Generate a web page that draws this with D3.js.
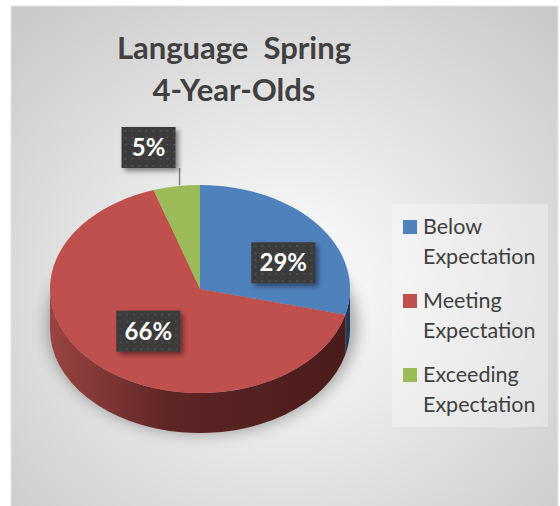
<!DOCTYPE html>
<html>
<head>
<meta charset="utf-8">
<script src="https://cdn.jsdelivr.net/npm/d3@7"></script>
<style>
  body { margin: 0; background: #fff; }
  svg { display: block; }
</style>
</head>
<body>
<div id="chart"></div>
<script>
// chart data
const categories = ["Below Expectation", "Meeting Expectation", "Exceeding Expectation"];
const legendLines = [["Below", "Expectation"], ["Meeting", "Expectation"], ["Exceeding", "Expectation"]];
const values = [29, 66, 5];
const colors = ["#4f81bd", "#c0504d", "#9bbb59"];
const sideColors = [["#3d6796", "#223a58"], ["#9b4441", "#4a1b1b"], ["#7a9446", "#4b5c2a"]];
const titleLines = ["Language  Spring", "4-Year-Olds"];

const width = 560, height = 506;
const cx = 200, cy = 289, rx = 150, ry = 104, depth = 40;

const svg = d3.select("#chart").append("svg")
    .attr("width", width)
    .attr("height", height);

const defs = svg.append("defs");

// background gradient
const bg = defs.append("radialGradient")
    .attr("id", "bg")
    .attr("cx", "50%").attr("cy", "55%").attr("r", "72%");
bg.append("stop").attr("offset", "0%").attr("stop-color", "#ffffff");
bg.append("stop").attr("offset", "100%").attr("stop-color", "#c9c9c9");

svg.append("rect")
    .attr("x", 11).attr("y", 6)
    .attr("width", 547).attr("height", 510)
    .attr("fill", "url(#bg)")
    .attr("stroke", "#e4e4e4")
    .attr("stroke-width", 1);

// blur for shadows
const blur = defs.append("filter").attr("id", "blur")
    .attr("x", "-30%").attr("y", "-30%").attr("width", "160%").attr("height", "160%");
blur.append("feGaussianBlur").attr("stdDeviation", 7);

const boxShadow = defs.append("filter").attr("id", "boxShadow")
    .attr("x", "-30%").attr("y", "-30%").attr("width", "170%").attr("height", "170%");
boxShadow.append("feDropShadow")
    .attr("dx", 3).attr("dy", 3).attr("stdDeviation", 2.5)
    .attr("flood-color", "#000").attr("flood-opacity", 0.45);

// dotted pattern for the data label boxes
const pat = defs.append("pattern")
    .attr("id", "dots")
    .attr("width", 7).attr("height", 7)
    .attr("patternUnits", "userSpaceOnUse");
pat.append("rect").attr("width", 7).attr("height", 7).attr("fill", "#3b3b3b");
pat.append("rect").attr("x", 3).attr("y", 3).attr("width", 1.6).attr("height", 1.6).attr("fill", "#575757");

// title
svg.append("g")
    .selectAll("text")
    .data(titleLines)
    .join("text")
    .attr("x", 234)
    .attr("y", (d, i) => 59 + i * 42)
    .attr("text-anchor", "middle")
    .attr("font-family", "Lato")
    .attr("font-weight", "bold")
    .attr("font-size", 31)
    .attr("fill", "#404040")
    .style("white-space", "pre")
    .text(d => d);

// pie layout
const pie = d3.pie().sort(null).value(d => d);
const arcsData = pie(values);

// shadow under the pie
svg.append("ellipse")
    .attr("cx", cx + 2).attr("cy", cy + depth - 4)
    .attr("rx", rx + 6).attr("ry", ry + 6)
    .attr("fill", "#555")
    .attr("opacity", 0.45)
    .attr("filter", "url(#blur)");

// side walls (only the front half is visible)
const pt = (a, dy) => [cx + rx * Math.sin(a), cy - ry * Math.cos(a) + dy];

arcsData.forEach((d, i) => {
    const g = defs.append("linearGradient")
        .attr("id", `side-${i}`)
        .attr("gradientUnits", "userSpaceOnUse")
        .attr("x1", cx - rx).attr("x2", cx + rx);
    g.append("stop").attr("offset", "0%").attr("stop-color", sideColors[i][0]);
    g.append("stop").attr("offset", "40%").attr("stop-color", d3.interpolate(sideColors[i][0], sideColors[i][1])(0.75));
    g.append("stop").attr("offset", "100%").attr("stop-color", sideColors[i][1]);
});

const sides = arcsData.map((d, i) => {
    const a0 = Math.max(d.startAngle, Math.PI / 2);
    const a1 = Math.min(d.endAngle, Math.PI * 3 / 2);
    return { i, a0, a1 };
}).filter(s => s.a1 > s.a0);

svg.append("g")
    .selectAll("path")
    .data(sides)
    .join("path")
    .attr("d", s => {
        const p0 = pt(s.a0, 0), p1 = pt(s.a1, 0);
        const q1 = pt(s.a1, depth), q0 = pt(s.a0, depth);
        return `M${p0}A${rx},${ry} 0 0 1 ${p1}L${q1}A${rx},${ry} 0 0 0 ${q0}Z`;
    })
    .attr("fill", s => `url(#side-${s.i})`);

// top surface
const arc = d3.arc().innerRadius(0).outerRadius(rx);
svg.append("g")
    .attr("transform", `translate(${cx},${cy}) scale(1,${ry / rx})`)
    .selectAll("path")
    .data(arcsData)
    .join("path")
    .attr("d", arc)
    .attr("fill", (d, i) => colors[i]);

// data labels
const labelRx = 0.61, labelRy = 0.49;
const labels = arcsData.map((d, i) => {
    const mid = (d.startAngle + d.endAngle) / 2;
    const text = values[i] + "%";
    const w = text.length > 2 ? 64 : 54;
    const h = 41;
    if (d.endAngle - d.startAngle < 0.5) {
        // small slice: outside with a leader line
        const p = pt(mid, 0);
        const top = cy - ry - 58;
        return { text, w, h, x: p[0] - 1 - w, y: top, line: [[p[0] + 3, top + h], [p[0] + 3, p[1] - 1]] };
    }
    const x = cx + labelRx * rx * Math.sin(mid) + 11;
    const y = cy - labelRy * ry * Math.cos(mid) + 5;
    return { text, w, h, x: x - w / 2, y: y - h / 2 };
});

const lg = svg.append("g");
lg.selectAll("line")
    .data(labels.filter(l => l.line))
    .join("line")
    .attr("x1", l => l.line[0][0]).attr("y1", l => l.line[0][1])
    .attr("x2", l => l.line[1][0]).attr("y2", l => l.line[1][1])
    .attr("stroke", "#7f7f7f")
    .attr("stroke-width", 1.5);

const lab = lg.selectAll("g")
    .data(labels)
    .join("g")
    .attr("transform", l => `translate(${l.x},${l.y})`);
lab.append("rect")
    .attr("width", l => l.w).attr("height", l => l.h)
    .attr("fill", "url(#dots)")
    .attr("filter", "url(#boxShadow)");
lab.append("text")
    .attr("x", l => l.w / 2)
    .attr("y", l => l.h / 2 + 8.5)
    .attr("text-anchor", "middle")
    .attr("font-family", "Lato")
    .attr("font-weight", "bold")
    .attr("font-size", 24)
    .attr("fill", "#fff")
    .text(l => l.text);

// legend
const legend = svg.append("g").attr("transform", "translate(392,204)");
legend.append("rect")
    .attr("width", 156).attr("height", 223)
    .attr("fill", "#fff").attr("opacity", 0.3);

const items = legend.selectAll("g.item")
    .data(categories)
    .join("g")
    .attr("class", "item")
    .attr("transform", (d, i) => `translate(0,${i * 74})`);
items.append("rect")
    .attr("x", 11).attr("y", 16)
    .attr("width", 14).attr("height", 14)
    .attr("fill", (d, i) => colors[i]);
items.selectAll("text")
    .data((d, i) => legendLines[i])
    .join("text")
    .attr("x", 31)
    .attr("y", (d, j) => 30 + j * 30)
    .attr("font-family", "Lato")
    .attr("font-size", 21.5)
    .attr("fill", "#404040")
    .text(d => d);
</script>
</body>
</html>
